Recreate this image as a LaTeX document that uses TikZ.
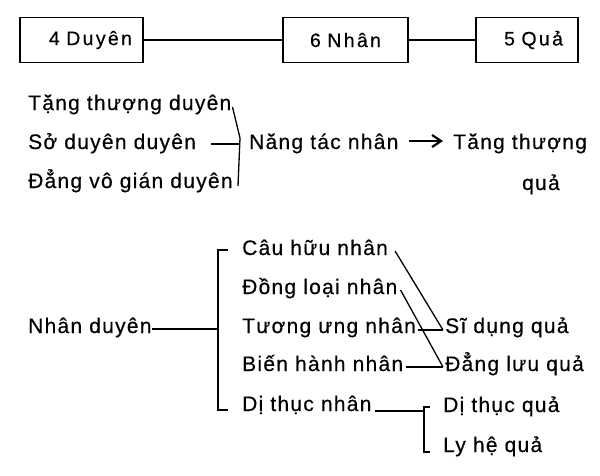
\documentclass[tikz,border=0pt]{standalone}
\usepackage{fontspec}
\setmainfont{Liberation Sans}[LetterSpace=6, FakeBold=0.4]
\newfontfamily\boxfont{Liberation Sans}[LetterSpace=12, FakeBold=0.4]
\usetikzlibrary{arrows.meta}
\tikzset{
    term/.style = {inner sep=0pt, anchor=base west, font=\fontsize{21}{25}\selectfont},
    box/.style = {draw, line width=1.4pt, minimum height=45pt, inner ysep=0pt, font=\boxfont\fontsize{19.5}{23}\selectfont},
    link/.style = {line width=1.3pt}
}

\begin{document}
\begin{tikzpicture}[x=1pt, y=-1pt]
        \useasboundingbox (0,0) rectangle (600,475);
        % place the three boxes
        \node[box, minimum width=123pt, text width=101pt, inner xsep=11pt, align=right] (box-duyen) at (81.5,40) {4 Duyên};
        \node[box, minimum width=125pt, text width=105pt, inner xsep=10pt, align=center] (box-nhan) at (345.5,40) {6 Nhân};
        \node[box, minimum width=102pt, text width=72pt, inner xsep=15pt, align=right] (box-qua) at (527,40) {5 Quả};
        \draw[link] (box-duyen) -- (box-nhan) -- (box-qua);

        % place the duyên group and its result
        \node[term] (duyen-1) at (28,110) {Tặng thượng duyên};
        \node[term] (duyen-2) at (28,149) {Sở duyên duyên};
        \node[term] (duyen-3) at (28,188) {Đẳng vô gián duyên};
        \node[term] (nangtac) at (249,149) {Năng tác nhân};
        \node[term] (tangthuong) at (453,149) {Tăng thượng};
        \node[term] (tangthuong-2) at (522,190) {quả};

        % draw the brace of the duyên group
        \coordinate (brace-top) at (240,138);
        \coordinate (brace-mid) at (240,144);
        \coordinate (brace-bot) at (238,186);
        \draw[link] (duyen-1.base east) ++(1,-3) -- (brace-top) -- (brace-bot);
        \draw[link] (duyen-2.base east) ++(15,-5) -- (brace-mid);
        \draw[link, -{Straight Barb[length=9pt, width=12pt, line width=2.2pt]}]
            (nangtac.base east) ++(10,-8) -- ([xshift=-10pt, yshift=8pt]tangthuong.base west);

        % place the nhân duyên tree
        \node[term] (nhanduyen) at (28,333) {Nhân duyên};
        \node[term] (nhan-1) at (242,255) {Câu hữu nhân};
        \node[term] (nhan-2) at (242,294) {Đồng loại nhân};
        \node[term] (nhan-3) at (242,333) {Tương ưng nhân};
        \node[term] (nhan-4) at (242,371) {Biến hành nhân};
        \node[term] (nhan-5) at (242,411) {Dị thục nhân};
        \node[term] (qua-1) at (445,333) {Sĩ dụng quả};
        \node[term] (qua-2) at (445,371) {Đẳng lưu quả};
        \node[term] (qua-3) at (443,412) {Dị thục quả};
        \node[term] (qua-4) at (443,452) {Ly hệ quả};

        % draw the tree bracket
        \coordinate (tree-top) at (218,250);
        \coordinate (tree-mid) at (218,329);
        \coordinate (tree-bot) at (218,410);
        \draw[link] (nhanduyen.base east) ++(0,-4) -- (tree-mid);
        \draw[link] ([xshift=10pt]tree-top) -- (tree-top) -- (tree-bot) -- ++(10,0);

        % draw crossing lines to the quả
        \coordinate (sidung) at ([xshift=-2pt, yshift=3pt]qua-1.base west);
        \coordinate (dangluu) at ([xshift=-2pt, yshift=4pt]qua-2.base west);
        \draw[link] (nhan-1.base east) ++(7,-4) -- (sidung);
        \draw[link] (nhan-3.base east) ++(2,-3) -- (sidung);
        \draw[link] (nhan-2.base east) ++(3,-4) -- (dangluu);
        \draw[link] (nhan-4.base east) ++(3,-4) -- (dangluu);

        % draw the fork of dị thục nhân
        \coordinate (fork-top) at (424,407);
        \coordinate (fork-bot) at (424,452);
        \draw[link] (nhan-5.base east) ++(3,0) -- (fork-top |- nhan-5.base);
        \draw[link] ([xshift=6pt]fork-top) -- (fork-top) -- (fork-bot) -- ++(6,0);
    \end{tikzpicture}
\end{document}
